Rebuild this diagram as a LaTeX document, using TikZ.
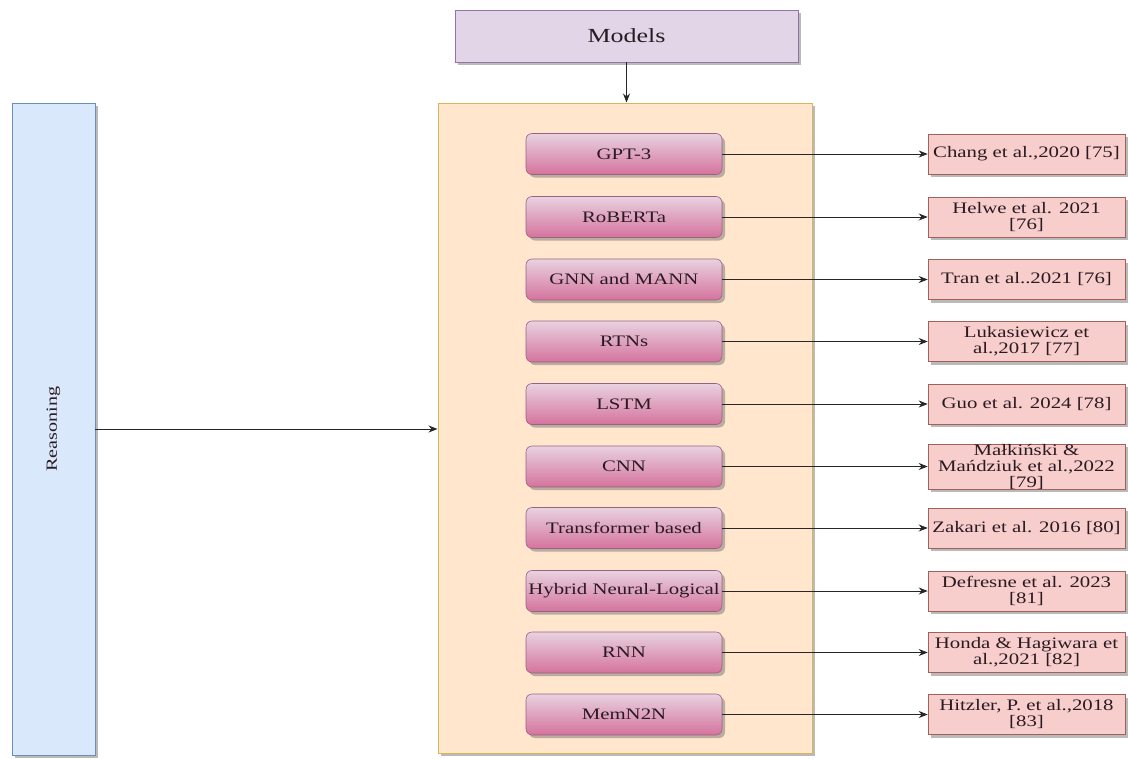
\documentclass[tikz,border=0pt]{standalone}
\usepackage{fontspec}
\setmainfont{Liberation Serif}[FakeStretch=1.3]
\usetikzlibrary{arrows.meta,shadows}

\definecolor{modfill}{HTML}{E1D5E7}
\definecolor{modline}{HTML}{9673A6}
\definecolor{reafill}{HTML}{DAE8FC}
\definecolor{realine}{HTML}{6C8EBF}
\definecolor{bigfill}{HTML}{FFE6CC}
\definecolor{bigline}{HTML}{D6B656}
\definecolor{pinktop}{HTML}{E8D2E0}
\definecolor{pinkbot}{HTML}{D5739D}
\definecolor{pinkline}{HTML}{996185}
\definecolor{reffill}{HTML}{F8CECC}
\definecolor{refline}{HTML}{A0605C}
\definecolor{ink}{HTML}{2A1A22}

\tikzset{
  shade/.style={drop shadow={shadow xshift=3pt,shadow yshift=-3pt,opacity=0.45,fill=black!60}},
  topbox/.style={draw=modline,fill=modfill,line width=0.8pt,shade,text=ink,
    minimum width=343pt,minimum height=52pt,inner sep=0pt,font=\fontsize{20}{22}\selectfont},
  sidebox/.style={draw=realine,fill=reafill,line width=0.8pt,shade,
    minimum width=83pt,minimum height=652pt,inner sep=0pt},
  bigbox/.style={draw=bigline,fill=bigfill,line width=1pt,shade,
    minimum width=374pt,minimum height=650pt,inner sep=0pt},
  model/.style={draw=pinkline,top color=pinktop,bottom color=pinkbot,rounded corners=6pt,
    line width=0.6pt,shade,minimum width=196pt,minimum height=41pt,inner sep=0pt,text=ink,
    font=\fontsize{16}{18}\selectfont},
  ref/.style={draw=refline,fill=reffill,line width=0.6pt,shade,text=ink,
    minimum width=197pt,minimum height=40pt,inner sep=0pt,align=center,
    font=\fontsize{16}{16}\selectfont},
  arr/.style={draw=black!85,line width=0.8pt,-{Stealth[length=9pt,width=7pt]}}
}

\begin{document}
\begin{tikzpicture}[x=1pt,y=1pt]
  \useasboundingbox[fill=white] (0,0) rectangle (1129,-758);

  % top and side headings, and the container of models
  \node[topbox] (models) at (626.5,-36) {Models};
  \node[bigbox] (big) at (625,-428) {};
  \node[sidebox] (reason) at (53.5,-429) {};
  \node[rotate=90,text=ink,font=\fontsize{15.5}{17}\selectfont] (reasonlbl) at (reason.center) {Reasoning};

  \draw[arr] (models.south) -- (models.south |- big.north);
  \draw[arr] (reason.east) -- (reason.east -| big.west);

  % model families and their references
  \foreach \y/\mname/\mtext/\rtext in {
    154/m1/{GPT-3}/{Chang et al.,2020 [75]},
    217/m2/{RoBERTa}/{Helwe et al. 2021\\{[76]}},
    279.5/m3/{GNN and MANN}/{Tran et al..2021 [76]},
    341.5/m4/{RTNs}/{Lukasiewicz et\\al.,2017 [77]},
    404/m5/{LSTM}/{Guo et al. 2024 [78]},
    466.5/m6/{CNN}/{Małkiński \&\\Mańdziuk et al.,2022\\{[79]}},
    528/m7/{Transformer based}/{Zakari et al. 2016 [80]},
    591/m8/{Hybrid Neural-Logical}/{Defresne et al. 2023\\{[81]}},
    652.5/m9/{RNN}/{Honda \& Hagiwara et\\al.,2021 [82]},
    714.5/m10/{MemN2N}/{Hitzler, P. et al.,2018\\{[83]}}}
  {
    \node[model] (\mname) at (624,-\y) {\mtext};
    \node[ref] (r\mname) at (1026.5,-\y) {\rtext};
    \draw[arr] (\mname.east) -- (r\mname.west);
  }
\end{tikzpicture}
\end{document}
